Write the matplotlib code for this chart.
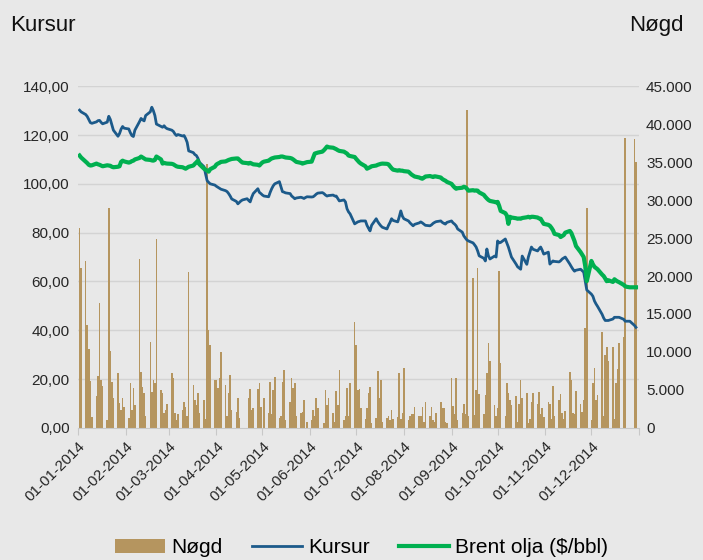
import pandas as pd
import matplotlib
matplotlib.use("Agg")
import matplotlib.pyplot as plt
import matplotlib.transforms as mtransforms
from matplotlib.patches import Patch
from matplotlib.lines import Line2D
from matplotlib.ticker import FuncFormatter

plt.rcParams["font.family"] = ["Liberation Sans", "DejaVu Sans"]

# trading days 2014 (Oslo Børs, holidays kept with zero volume)
days = pd.bdate_range("2014-01-02", "2014-12-30")

kursur = [
    130.2, 129.5, 128.4, 127.6, 126.3, 125.1, 124.8, 125.4, 125.9, 126.0, 125.2, 124.6, 125.3, 127.7, 126.4, 124.2, 122.0, 119.5, 120.6, 122.4, 123.5, 122.8,  # jan
    122.5, 121.0, 119.8, 119.4, 122.0, 125.5, 126.8, 126.2, 125.8, 128.0, 129.5, 131.4, 130.0, 128.0, 124.5, 123.5, 123.2, 123.8, 123.0, 122.6,  # feb
    122.0, 121.5, 120.5, 119.8, 120.2, 119.6, 119.8, 118.6, 117.0, 113.5, 112.8, 112.0, 111.6, 110.5, 108.8, 107.0, 104.0, 101.3, 100.6, 100.0, 99.5,  # mar
    99.0, 98.6, 98.2, 97.8, 97.2, 96.8, 96.0, 95.0, 93.8, 92.8, 91.8, 92.4, 93.0, 93.4, 93.9, 93.2, 92.6, 94.5, 96.0, 98.0, 96.5, 96.0,  # apr
    95.4, 95.0, 94.7, 96.5, 98.0, 99.2, 100.0, 100.9, 98.8, 96.8, 96.6, 96.3, 96.0, 95.0, 94.5, 93.9, 94.2, 94.5, 94.3, 94.0, 94.4, 94.7,  # may
    94.6, 94.7, 95.2, 95.8, 96.2, 96.4, 96.0, 95.4, 95.0, 95.2, 95.4, 95.0, 95.0, 94.0, 93.0, 93.4, 92.6, 89.8, 88.5, 87.7, 83.6,  # jun
    84.0, 84.4, 84.6, 84.8, 84.8, 83.0, 81.8, 80.7, 83.0, 85.7, 84.5, 83.6, 82.8, 82.2, 81.5, 83.0, 84.2, 85.7, 85.0, 84.4, 86.5, 88.9, 86.8,  # jul
    85.7, 84.8, 84.0, 83.4, 82.8, 83.4, 84.0, 84.4, 84.0, 83.5, 83.0, 82.8, 83.2, 83.8, 84.2, 84.5, 84.8, 84.2, 83.8, 83.5, 84.2,  # aug
    84.8, 84.0, 83.5, 82.8, 81.5, 80.2, 78.7, 77.8, 77.0, 76.6, 75.8, 75.0, 74.1, 72.5, 70.5, 69.5, 68.4, 73.3, 70.5, 69.2, 70.4, 70.0,  # sep
    76.6, 75.8, 76.0, 77.4, 75.8, 74.1, 72.0, 70.0, 67.1, 66.0, 65.5, 65.0, 70.4, 67.0, 70.0, 72.0, 74.1, 73.2, 72.5, 73.4, 74.1, 72.8, 71.2,  # oct
    72.0, 67.1, 67.8, 68.4, 68.2, 68.0, 68.5, 69.2, 69.6, 70.0, 67.1, 66.0, 65.0, 64.2, 64.6, 65.0, 64.4, 63.8, 60.1, 56.5,  # nov
    54.8, 53.9, 52.0, 50.8, 49.8, 46.5, 45.0, 44.0, 44.0, 44.0, 44.6, 45.3, 45.3, 45.3, 45.3, 44.5, 43.7, 43.7, 43.7, 43.7, 42.0, 41.2,  # dec
]

brent = [
    111.6, 110.8, 109.1, 108.5, 107.8, 107.5, 107.6, 108.3, 108.0, 107.8, 107.5, 107.2, 107.6, 107.5, 107.4, 107.0, 106.8, 107.0, 107.2, 109.0, 109.5, 109.2,
    108.7, 108.9, 109.3, 109.5, 110.0, 110.6, 111.2, 110.8, 110.4, 110.0, 109.8, 109.6, 109.5, 109.8, 111.2, 110.0, 108.3, 108.6, 108.4, 108.3,
    108.2, 108.0, 107.6, 107.2, 107.0, 106.8, 106.5, 106.2, 106.6, 107.0, 107.5, 108.2, 108.8, 109.5, 108.0, 106.2, 105.8, 105.4, 105.0, 106.0, 107.0,
    107.9, 108.3, 108.6, 109.0, 109.2, 109.5, 109.8, 110.0, 110.2, 110.4, 110.4, 109.8, 109.2, 108.7, 108.5, 108.3, 108.6, 108.3, 108.0, 107.8, 107.5, 108.2,
    108.8, 109.1, 109.5, 110.0, 110.4, 110.6, 110.8, 111.0, 111.2, 111.2, 111.0, 110.8, 110.6, 110.4, 110.0, 109.5, 109.0, 108.6, 108.3, 108.5, 108.7, 108.9,
    109.1, 110.8, 112.4, 112.6, 112.8, 113.2, 113.8, 114.5, 115.3, 115.0, 114.8, 114.5, 114.2, 113.8, 113.5, 113.2, 112.8, 112.4, 111.6, 111.4, 111.0,
    110.2, 109.5, 108.8, 108.3, 107.2, 106.2, 106.5, 106.8, 107.2, 107.5, 107.8, 108.0, 108.2, 108.3, 108.2, 108.0, 107.2, 106.4, 105.8, 105.4, 105.6, 105.4, 105.4,
    105.2, 105.0, 104.4, 103.8, 103.4, 103.0, 102.6, 102.3, 102.1, 102.5, 103.0, 103.2, 103.0, 102.8, 103.1, 103.0, 102.6, 102.0, 101.6, 101.3, 100.8,
    100.0, 99.2, 98.5, 98.0, 98.2, 98.4, 98.8, 98.6, 98.0, 97.2, 97.4, 97.2, 97.3, 97.2, 96.5, 95.5, 94.7, 94.0, 93.4, 93.0, 92.6, 92.4,
    92.6, 91.0, 88.9, 88.0, 87.0, 83.6, 86.5, 86.2, 85.9, 85.7, 85.8, 85.7, 86.0, 86.3, 86.5, 86.2, 86.5, 86.5, 86.2, 85.8, 85.7, 84.6, 83.6,
    83.2, 82.8, 82.0, 81.0, 79.5, 79.0, 78.2, 78.6, 79.0, 80.0, 80.7, 79.8, 78.2, 76.6, 74.5, 72.0, 71.0, 70.0, 66.3, 60.1,
    68.4, 67.0, 66.0, 65.5, 65.0, 62.8, 62.2, 61.2, 60.1, 60.5, 59.8, 60.9, 60.4, 60.0, 59.7, 58.6, 58.0, 57.8, 57.7, 57.6, 57.6, 57.6,
]

nogd = [
    26300, 21000, 22000, 13600, 10400, 6200, 1400, 4200, 6800, 16500, 6300, 5500, 1000, 29000, 10100, 6000, 3900, 7200, 3300, 2400, 3900, 2800,
    1300, 5900, 2400, 5200, 3000, 22300, 7300, 5400, 4600, 1500, 11300, 4700, 6300, 5900, 24900, 5000, 4600, 2000, 2400, 3200,
    7200, 6600, 2000, 1000, 1800, 2400, 3400, 2800, 1500, 20500, 5600, 3700, 3000, 4600, 2000, 3700, 1200, 34800, 12900, 10900, 6300,
    6300, 5200, 6600, 10000, 5600, 1500, 4600, 7000, 2400, 2100, 3900, 1300, 0, 0, 0, 3900, 5100, 2400, 2600, 5100, 5900, 2800,
    0, 3900, 2000, 6000, 1800, 5000, 6700, 1300, 1500, 6000, 7600, 1000, 3400, 6600, 5200, 5900, 1500, 2000, 2100, 3700, 0, 800,
    1000, 2400, 1500, 3900, 2600, 0, 600, 5000, 3000, 3900, 2000, 800, 4800, 3000, 7600, 1000, 1500, 5200, 1500, 5900, 13900,
    10900, 5000, 5100, 2600, 1200, 2600, 4600, 5400, 600, 1300, 7500, 3900, 6300, 800, 1300, 1500, 1000, 2400, 1200, 1400, 7200, 1200, 2000,
    7900, 1000, 1500, 1800, 1800, 2800, 1500, 1600, 2800, 800, 3400, 1600, 2800, 1000, 800, 1900, 3400, 2600, 2600, 800, 600,
    6600, 2900, 1800, 6600, 1000, 2000, 3200, 1800, 41900, 1600, 19800, 1700, 5000, 21000, 4400, 1800, 4300, 7200, 11200, 8800, 3000, 1500,
    2600, 20700, 8500, 1500, 5900, 4600, 3700, 3000, 4200, 800, 3200, 6300, 3900, 4600, 700, 1200, 3400, 4600, 3100, 4700, 1800, 2600, 1400,
    3400, 3200, 1200, 5500, 1600, 3700, 4400, 2000, 1200, 2200, 7300, 6300, 2000, 1800, 4800, 3100, 2100, 3700, 13100, 28900,
    1000, 5900, 7900, 3700, 4300, 12600, 1500, 9600, 10600, 8800, 10600, 1200, 5900, 7700, 11200, 12000, 38200, 0, 0, 0, 38000, 35000,
]

left_ticks = [0, 20, 40, 60, 80, 100, 120, 140]
right_ticks = [0, 5000, 10000, 15000, 20000, 25000, 30000, 35000, 40000, 45000]
month_ticks = pd.date_range("2014-01-01", "2015-01-01", freq="MS")

bg = "#e8e8e8"
c_bar = "#b5955f"
c_kurs = "#1c5a8a"
c_brent = "#00b050"
c_grid = "#d3d3d3"

fig = plt.figure(figsize=(7.03, 5.6), dpi=100, facecolor=bg)
ax2 = fig.add_axes([0.111, 0.236, 0.798, 0.610])   # bars, right scale
ax = ax2.twinx()                                    # lines, left scale
ax.yaxis.tick_left()
ax2.yaxis.tick_right()
ax2.set_facecolor(bg)
ax.set_zorder(ax2.get_zorder() + 1)
ax.patch.set_visible(False)

# grid of the left scale, drawn under the bars
tr = mtransforms.blended_transform_factory(ax2.transAxes, ax.transData)
for v in left_ticks[1:]:
    ax2.plot([0, 1], [v, v], transform=tr, color=c_grid, lw=1, zorder=0)

ax2.bar(days, nogd, width=1.0, color=c_bar, zorder=2)
ax.plot(days, kursur, color=c_kurs, lw=2)
ax.plot(days, brent, color=c_brent, lw=3)

ax.set_ylim(0, 140)
ax2.set_ylim(0, 45000)
ax2.set_xlim(pd.Timestamp("2014-01-01"), pd.Timestamp("2015-01-01"))
ax.set_yticks(left_ticks)
ax2.set_yticks(right_ticks)
ax.yaxis.set_major_formatter(FuncFormatter(lambda v, p: f"{v:.2f}".replace(".", ",")))
ax2.yaxis.set_major_formatter(FuncFormatter(lambda v, p: f"{v:,.0f}".replace(",", ".")))

ax2.set_xticks(month_ticks)
ax2.set_xticklabels([d.strftime("%d-%m-%Y") for d in month_ticks[:-1]] + [""],
                    rotation=45, ha="right", rotation_mode="anchor")

for a in (ax, ax2):
    for s in a.spines.values():
        s.set_visible(False)
ax2.spines["bottom"].set_visible(True)
ax2.spines["bottom"].set_color("#c8c8c8")
ax2.tick_params(axis="x", length=5, color="#c8c8c8", labelsize=11, labelcolor="#262626", pad=3)
ax.tick_params(axis="y", length=0, labelsize=11, labelcolor="#262626", pad=6)
ax2.tick_params(axis="y", length=0, labelsize=11, labelcolor="#262626", pad=5)

fig.text(0.014, 0.955, "Kursur", fontsize=16, ha="left", va="center", color="#111111")
fig.text(0.972, 0.955, "Nøgd", fontsize=16, ha="right", va="center", color="#111111")

handles = [Patch(facecolor=c_bar, edgecolor="none"),
           Line2D([], [], color=c_kurs, lw=2),
           Line2D([], [], color=c_brent, lw=3)]
fig.legend(handles, ["Nøgd", "Kursur", "Brent olja ($/bbl)"], loc="center",
           bbox_to_anchor=(0.514, 0.022), ncol=3, frameon=False, fontsize=15,
           handlelength=2.4, handleheight=0.7, handletextpad=0.3, columnspacing=1.4)

fig.savefig("out.png", dpi=100, facecolor=bg)
